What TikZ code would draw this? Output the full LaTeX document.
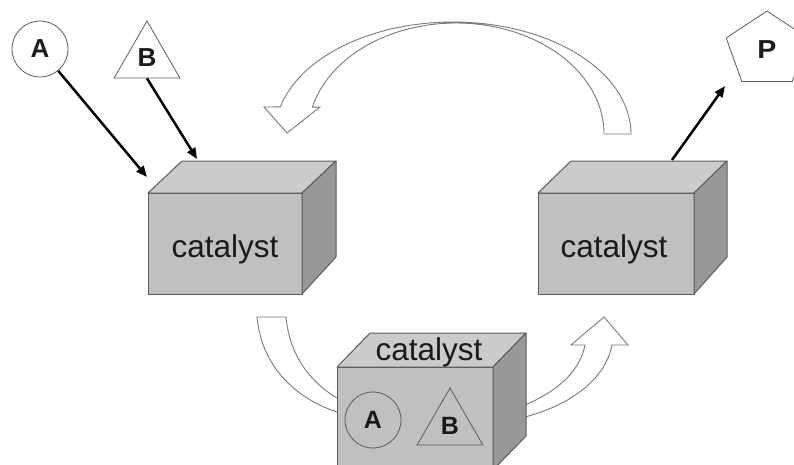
\documentclass[tikz,border=0pt]{standalone}
\usepackage{fontspec}
\setmainfont{Liberation Sans}
\usetikzlibrary{shapes.geometric,arrows.meta}
\definecolor{frontc}{HTML}{C0C0C0}
\definecolor{topc}{HTML}{CBCBCB}
\definecolor{sidec}{HTML}{989898}
\definecolor{edgec}{HTML}{5C5C5C}
\definecolor{arrc}{HTML}{7A7A7A}
\definecolor{txtc}{HTML}{1A1A1A}
\tikzset{
  frontface/.style={fill=frontc, draw=edgec, line width=1pt},
  topface/.style={fill=topc, draw=edgec, line width=1pt, line join=round},
  sideface/.style={fill=sidec, draw=edgec, line width=1pt, line join=round},
  cattext/.style={font=\fontsize{31.5}{31.5}\selectfont, text=txtc, inner sep=0pt},
  mol/.style={draw=edgec, fill=white, line width=0.8pt, inner sep=0pt, text=txtc,
              font=\bfseries\fontsize{26}{26}\selectfont},
  hollow/.style={fill=white, draw=arrc, line width=0.9pt, line join=miter},
  arr/.style={-{Triangle[length=11pt,width=9pt]}, line width=2.5pt, black}
}
\begin{document}
\begin{tikzpicture}[x=1pt,y=-1pt]
\useasboundingbox (0,0) rectangle (794,464);

% big hollow arrow at the top (right box back to left box)
\draw[hollow] plot[domain=0:166,samples=90] ({453+178*cos(\x)},{134-112*sin(\x)})
  -- (264,107) -- (287,133) -- (320,107)
  -- plot[domain=166:0,samples=90] ({456+148*cos(\x)},{134-111*sin(\x)}) -- cycle;

% hollow arrow into the bottom box
\draw[hollow] (257,317) -- (286,317) .. controls (290,360) and (315,385) .. (337,398)
  -- (352,402) -- (352,416) -- (337,412) .. controls (300,400) and (262,370) .. (257,317) -- cycle;

% hollow arrow out of the bottom box
\draw[hollow] (512,409) -- (525,405) .. controls (560,390) and (580,370) .. (585,345)
  -- (571,345) -- (604,317) -- (628,345) -- (612,345)
  .. controls (605,380) and (570,405) .. (525,417) -- (512,421) -- cycle;

% left box
\draw[frontface] (148,193) rectangle (302,294);
\draw[topface] (148,193) -- (182,161) -- (336,161) -- (302,193) -- cycle;
\draw[sideface] (302,193) -- (336,161) -- (336,257) -- (302,294) -- cycle;
\node[cattext, anchor=base] (c1) at (225,257) {catalyst};

% right box
\draw[frontface] (538,193) rectangle (694,294);
\draw[topface] (538,193) -- (571,161) -- (727,161) -- (694,193) -- cycle;
\draw[sideface] (694,193) -- (727,161) -- (727,257) -- (694,294) -- cycle;
\node[cattext, anchor=base] (c2) at (614,257) {catalyst};

% bottom box
\draw[frontface] (337,367) rectangle (493,470);
\draw[topface] (337,367) -- (370,333) -- (526,333) -- (493,367) -- cycle;
\draw[sideface] (493,367) -- (526,333) -- (526,436) -- (493,470) -- cycle;
\node[cattext, anchor=base] (c3) at (429,360) {catalyst};

% molecules
\node[mol, circle, minimum size=56pt] (A) at (40,49) {A};
\node[mol, regular polygon, regular polygon sides=3, minimum size=76pt] (B) at (147,59) {\raisebox{3pt}{B}};
\node[mol, regular polygon, regular polygon sides=5, minimum size=78pt, xscale=1.1, transform shape] (P) at (767,50) {P};
\node[mol, circle, minimum size=56pt, fill=frontc, font=\bfseries\fontsize{25}{25}\selectfont] (A2) at (373,420) {A};
\node[mol, regular polygon, regular polygon sides=3, minimum size=76pt, fill=frontc, font=\bfseries\fontsize{25}{25}\selectfont] (B2) at (450,426) {\raisebox{1pt}{B}};

% reaction arrows
\coordinate (a1) at (147,177);
\coordinate (b1) at (197,159);
\coordinate (p0) at (672,160);
\coordinate (p1) at (725,86);
\draw[arr] (A) -- (a1);
\draw[arr] (B.side 2) -- (b1);
\draw[arr] (p0) -- (p1);
\end{tikzpicture}
\end{document}
